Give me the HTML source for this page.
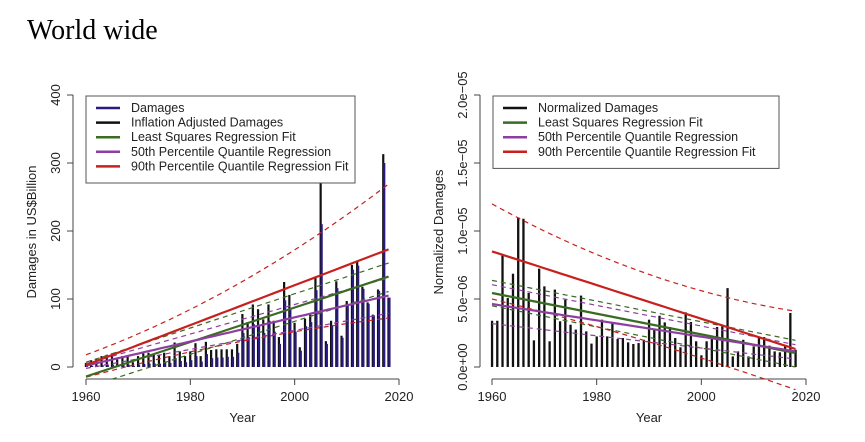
<!DOCTYPE html>
<html><head><meta charset="utf-8"><style>
body{margin:0;background:#fff;}
svg{display:block;font-family:"Liberation Sans",sans-serif;}
</style></head><body>
<svg id="c" width="865" height="442" viewBox="0 0 865 442">
<text x="27" y="39" font-family="Liberation Serif,serif" font-size="28">World wide</text>
<g id="L"></g>
<g id="R"></g>
</svg>
<script>
const years=[];for(let y=1960;y<=2018;y++)years.push(y);
const adjDamages=[6,10,12,16,18,20,11,16,17,7,16,20,21,18,17,21,16,36,23,16,23,35,16,37,25,26,26,26,26,34,78,66,92,85,70,92,68,44,125,106,65,29,71,77,131,272,38,68,126,46,97,150,155,118,95,77,114,313,102];
const damages=[1,1.5,2,2.5,3,3.5,2,3,3.5,1.5,3.5,4.5,5,5,5,7,6,13,9,7,10,16,8,19,13,14,14,15,15,21,50,44,63,60,50,68,52,34,98,85,52,24,60,66,113,210,34,61,116,43,91,143,149,115,93,76,112,300,102];
const normDamages=[3.4,3.4,8.26,5.07,6.86,11.0,10.9,5.44,1.96,7.23,5.93,1.89,5.69,3.36,4.95,3.11,2.75,5.25,2.62,1.72,2.25,3.48,2.25,3.31,2.06,2.13,1.81,1.69,1.76,2.0,3.48,2.8,3.77,3.28,2.94,2.13,1.45,4.02,3.31,1.89,0.86,1.89,2.2,2.94,2.99,5.8,0.78,1.15,2.0,0.78,1.52,2.13,2.2,1.57,1.15,1.08,1.52,3.97,1.27];
const leftFits={ls:[-14,133],q50:[2,105],q90:[3,173]};
const leftBands={lsU:[7,153],lsL:[-30,111],q50U:[5,131],q50L:[-2,79],q90U:[18,269,-22],q90L:[-15,72,8]};
const rightFits={ls:[5.44,1.03],q50:[4.63,1.15],q90:[8.5,1.32]};
const rightBands={lsU:[6.37,1.96],lsL:[4.5,0.0],q50U:[6.05,1.64],q50L:[3.19,0.59],q90U:[11.99,4.1,-1.1],q90L:[5.0,-1.67,0.3]};
const xTicks=[1960,1980,2000,2020];
const leftYTicks=[0,100,200,300,400];
const rightYTicks=[0,5e-6,1e-5,1.5e-5,2e-5];
const rightYLabels=["0.0e+00","5.0e\u221206","1.0e\u221205","1.5e\u221205","2.0e\u221205"];
const NS="http://www.w3.org/2000/svg";
function el(p,t,a){const e=document.createElementNS(NS,t);for(const k in a)e.setAttribute(k,a[k]);p.appendChild(e);return e;}
const GREEN="#3a6b22",PURP="#8e3ea0",RED="#c8201e",BLUE="#2a1a80";
function panel(g,x0,x1,yMax){
  const X=y=>x0+(y-1960)*(x1-x0)/60;
  const Y=v=>367-v*(272/yMax);
  return {X,Y};
}
function fitPath(g,S,f,color,w,dash,name,clipId){
  const pts=[];for(let i=0;i<=40;i++){const t=i/40;const yr=1960+58*t;let v=f[0]+(f[1]-f[0])*t+(f[2]||0)*4*t*(1-t);pts.push(S.X(yr).toFixed(1)+","+S.Y(v).toFixed(1));}
  const p=el(g,"polyline",{points:pts.join(" "),fill:"none",stroke:color,"stroke-width":w,"clip-path":"url(#"+clipId+")"});
  if(dash)p.setAttribute("stroke-dasharray","5,4");
  
  
}
function axes(g,S,ax,yTicks,yLabels,yScale){
  const a=el(g,"line",{x1:S.X(1960),x2:S.X(2020),y1:379,y2:379,stroke:"#444","stroke-width":1});
  
  xTicks.forEach(t=>{el(g,"line",{x1:S.X(t),x2:S.X(t),y1:379,y2:385,stroke:"#444"});
    const tx=el(g,"text",{x:S.X(t),y:401,"text-anchor":"middle","font-size":13,fill:"#222"});tx.textContent=t;
    });
  const b=el(g,"line",{x1:ax,x2:ax,y1:S.Y(yTicks[0]/yScale),y2:S.Y(yTicks[yTicks.length-1]/yScale),stroke:"#444"});
  
  yTicks.forEach((t,i)=>{const yy=S.Y(t/yScale);el(g,"line",{x1:ax-6,x2:ax,y1:yy,y2:yy,stroke:"#444"});
    const lx=ax-13;
    const tx=el(g,"text",{x:lx,y:yy,"text-anchor":"middle","font-size":13,fill:"#222",transform:"rotate(-90 "+lx+" "+yy+")"});tx.textContent=yLabels[i];
    });
  const xl=el(g,"text",{x:(S.X(1960)+S.X(2020))/2,y:422,"text-anchor":"middle","font-size":13,fill:"#222"});xl.textContent="Year";
  
}
function legend(g,x,y,w,items){
  const h=items.length*14.6+14;
  const r=el(g,"rect",{x,y,width:w,height:h,fill:"#fff",stroke:"#555"});
  
  items.forEach((it,i)=>{const yy=y+16+i*14.6;
    el(g,"line",{x1:x+10,x2:x+34,y1:yy-4,y2:yy-4,stroke:it[1],"stroke-width":2.5});
    const t=el(g,"text",{x:x+45,y:yy,"font-size":12.5,fill:"#222"});t.textContent=it[0];
    });
}
const defs=el(document.getElementById("c"),"defs",{});
const c1=el(defs,"clipPath",{id:"cl"});el(c1,"rect",{x:73,y:90,width:330,height:289});
const c2=el(defs,"clipPath",{id:"cr"});el(c2,"rect",{x:480,y:90,width:330,height:300});
{const g=document.getElementById("L");const S=panel(g,86,399,400);
 axes(g,S,73,leftYTicks,leftYTicks.map(String),1);
 const yl=el(g,"text",{x:36,y:232,"text-anchor":"middle","font-size":13,fill:"#222",transform:"rotate(-90 36 232)"});yl.textContent="Damages in US$Billion";
 
 years.forEach((yr,i)=>{const b=el(g,"rect",{x:S.X(yr)-1.2,y:S.Y(adjDamages[i]),width:2.2,height:S.Y(0)-S.Y(adjDamages[i]),fill:"#111"});
   
   const d=el(g,"rect",{x:S.X(yr)-0.2,y:S.Y(damages[i]),width:2.2,height:S.Y(0)-S.Y(damages[i]),fill:BLUE});
   });
 fitPath(g,S,leftBands.lsU,GREEN,1.2,1,'ls-upper-band','cl');fitPath(g,S,leftBands.lsL,GREEN,1.2,1,'ls-lower-band','cl');
 fitPath(g,S,leftBands.q50U,PURP,1.2,1,'q50-upper-band','cl');fitPath(g,S,leftBands.q50L,PURP,1.2,1,'q50-lower-band','cl');
 fitPath(g,S,leftBands.q90U,RED,1.2,1,'q90-upper-band','cl');fitPath(g,S,leftBands.q90L,RED,1.2,1,'q90-lower-band','cl');
 fitPath(g,S,leftFits.ls,GREEN,2.2,0,'ls-fit-line','cl');fitPath(g,S,leftFits.q50,PURP,2.2,0,'q50-fit-line','cl');fitPath(g,S,leftFits.q90,RED,2.2,0,'q90-fit-line','cl');
 legend(g,86,96,269,[["Damages",BLUE],["Inflation Adjusted Damages","#111"],["Least Squares Regression Fit",GREEN],["50th Percentile Quantile Regression",PURP],["90th Percentile Quantile Regression Fit",RED]]);
}
{const g=document.getElementById("R");const S=panel(g,492,806,20);
 axes(g,S,480,rightYTicks,rightYLabels,1e-6);
 const yl=el(g,"text",{x:443,y:232,"text-anchor":"middle","font-size":13,fill:"#222",transform:"rotate(-90 443 232)"});yl.textContent="Normalized Damages";
 
 years.forEach((yr,i)=>{const b=el(g,"rect",{x:S.X(yr)-1.1,y:S.Y(normDamages[i]),width:2.3,height:S.Y(0)-S.Y(normDamages[i]),fill:"#111"});
   });
 fitPath(g,S,rightBands.lsU,GREEN,1.2,1,'ls-upper-band','cr');fitPath(g,S,rightBands.lsL,GREEN,1.2,1,'ls-lower-band','cr');
 fitPath(g,S,rightBands.q50U,PURP,1.2,1,'q50-upper-band','cr');fitPath(g,S,rightBands.q50L,PURP,1.2,1,'q50-lower-band','cr');
 fitPath(g,S,rightBands.q90U,RED,1.2,1,'q90-upper-band','cr');fitPath(g,S,rightBands.q90L,RED,1.2,1,'q90-lower-band','cr');
 fitPath(g,S,rightFits.ls,GREEN,2.2,0,'ls-fit-line','cr');fitPath(g,S,rightFits.q50,PURP,2.2,0,'q50-fit-line','cr');fitPath(g,S,rightFits.q90,RED,2.2,0,'q90-fit-line','cr');
 legend(g,493,96,286,[["Normalized Damages","#111"],["Least Squares Regression Fit",GREEN],["50th Percentile Quantile Regression",PURP],["90th Percentile Quantile Regression Fit",RED]]);
}
</script>
</body></html>
